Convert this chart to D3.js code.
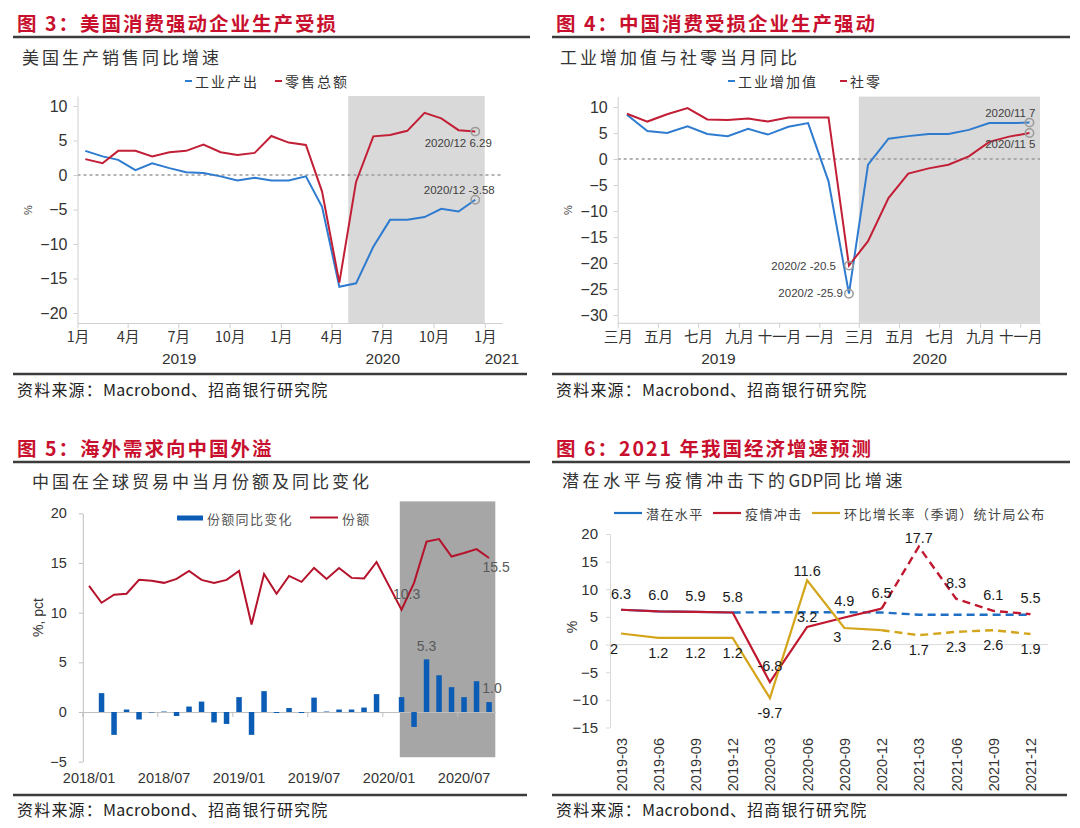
<!DOCTYPE html>
<html><head><meta charset="utf-8">
<script src="https://cdn.jsdelivr.net/npm/d3@7/dist/d3.min.js"></script>
<style>html,body{margin:0;padding:0;background:#fff;}svg{display:block;}</style>
</head><body>
<svg id="chart" width="1080" height="828"></svg>
<script>
// ================= DATA =================
const titles = ["图 3：美国消费强动企业生产受损", "图 4：中国消费受损企业生产强动", "图 5：海外需求向中国外溢", "图 6：2021 年我国经济增速预测"];
const subtitles = [["美国生产销售同比增速"], ["工业增加值与社零当月同比"], ["中国在全球贸易中当月份额及同比变化"], ["潜在水平与疫情冲击下的", "GDP", "同比增速"]];
const sourceParts = ["资料来源：", "Macrobond", "、招商银行研究院"];

// Fig 3: US industrial output & retail sales YoY (%)
const usMonths = ["2019-01","2019-02","2019-03","2019-04","2019-05","2019-06","2019-07","2019-08","2019-09","2019-10","2019-11","2019-12","2020-01","2020-02","2020-03","2020-04","2020-05","2020-06","2020-07","2020-08","2020-09","2020-10","2020-11","2020-12"];
const usIndustrial = [3.5, 2.7, 2.2, 0.7, 1.7, 1.0, 0.4, 0.3, -0.2, -0.8, -0.4, -0.8, -0.8, -0.2, -4.6, -16.2, -15.7, -10.4, -6.5, -6.5, -6.1, -4.9, -5.3, -3.58];
const usRetail = [2.3, 1.7, 3.5, 3.5, 2.7, 3.3, 3.5, 4.4, 3.3, 2.9, 3.2, 5.65, 4.7, 4.35, -2.4, -15.6, -1.0, 5.6, 5.8, 6.4, 9.0, 8.2, 6.5, 6.29];
const usSeriesNames = ["工业产出", "零售总额"];
const usXTickLabels = ["1月","4月","7月","10月","1月","4月","7月","10月","1月"];
const usYTicks = [10, 5, 0, -5, -10, -15, -20];
const usYears = ["2019", "2020", "2021"];
const usShade = ["2020-05", "2021-01"];
const usNotes = ["2020/12 6.29", "2020/12 -3.58"];

// Fig 4: China industrial value added & retail sales YoY (%)
const cnMonths = ["2019-03","2019-04","2019-05","2019-06","2019-07","2019-08","2019-09","2019-10","2019-11","2019-12","2020-01","2020-02","2020-03","2020-04","2020-05","2020-06","2020-07","2020-08","2020-09","2020-10","2020-11"];
const cnIVA = [8.5, 5.4, 5.0, 6.3, 4.8, 4.4, 5.8, 4.7, 6.2, 6.9, -4.3, -25.9, -1.1, 3.9, 4.4, 4.8, 4.8, 5.6, 6.9, 6.9, 7.0];
const cnRetail = [8.7, 7.2, 8.6, 9.8, 7.6, 7.5, 7.8, 7.2, 8.0, 8.0, 8.0, -20.5, -15.8, -7.5, -2.8, -1.8, -1.1, 0.5, 3.3, 4.3, 5.0];
const cnSeriesNames = ["工业增加值", "社零"];
const cnXTickLabels = ["三月","五月","七月","九月","十一月","一月","三月","五月","七月","九月","十一月"];
const cnYTicks = [10, 5, 0, -5, -10, -15, -20, -25, -30];
const cnYears = ["2019", "2020"];
const cnShade = ["2020-03", "2020-12"];
const cnNotes = ["2020/2 -25.9", "2020/2 -20.5", "2020/11 7", "2020/11 5"];

// Fig 5: China's share of global trade (%) and its YoY change (pct)
const tradeMonths = ["2018/01","2018/02","2018/03","2018/04","2018/05","2018/06","2018/07","2018/08","2018/09","2018/10","2018/11","2018/12","2019/01","2019/02","2019/03","2019/04","2019/05","2019/06","2019/07","2019/08","2019/09","2019/10","2019/11","2019/12","2020/01","2020/02","2020/03","2020/04","2020/05","2020/06","2020/07","2020/08","2020/09"];
const tradeShare = [12.7, 11.0, 11.8, 11.9, 13.3, 13.2, 13.0, 13.4, 14.2, 13.3, 13.0, 13.3, 14.2, 8.8, 13.9, 11.9, 13.7, 13.1, 14.5, 13.4, 14.5, 13.5, 13.45, 15.1, null, 10.3, 13.0, 17.15, 17.4, 15.65, 16.0, 16.4, 15.5];
const tradeShareChange = [null, 1.9, -2.3, 0.25, -0.75, -0.05, 0.05, -0.4, 0.55, 1.05, -1.05, -1.2, 1.5, -2.3, 2.1, -0.1, 0.4, -0.1, 1.45, 0.05, 0.25, 0.25, 0.45, 1.8, null, 1.5, -1.5, 5.3, 3.7, 2.5, 1.5, 3.1, 1.0];
const tradeSeriesNames = ["份额同比变化", "份额"];
const tradeXTickLabels = ["2018/01","2018/07","2019/01","2019/07","2020/01","2020/07"];
const tradeYTicks = [20, 15, 10, 5, 0, -5];
const tradeShadeFrom = "2020/02";

// Fig 6: GDP YoY under potential / pandemic shock, and QoQ (sa)
const gdpQuarters = ["2019-03","2019-06","2019-09","2019-12","2020-03","2020-06","2020-09","2020-12","2021-03","2021-06","2021-09","2021-12"];
const gdpPotential = [6.3, 6.0, 5.9, 5.8, 5.85, 5.85, 5.85, 5.8, 5.4, 5.4, 5.4, 5.4];
const gdpShock = [6.3, 6.0, 5.9, 5.8, -6.8, 3.2, 4.9, 6.5, 17.7, 8.3, 6.1, 5.5];
const gdpQoQ = [2, 1.2, 1.2, 1.2, -9.7, 11.6, 3, 2.6, 1.7, 2.3, 2.6, 1.9];
const gdpSeriesNames = ["潜在水平", "疫情冲击", "环比增长率（季调）统计局公布"];
const gdpYTicks = [20, 15, 10, 5, 0, -5, -10, -15];

// ================= STYLE / HELPERS =================
const svg = d3.select("#chart");
const CJK = "'Noto Sans CJK SC','Noto Sans CJK JP',sans-serif";
const NUM = "'Liberation Sans',Arial,sans-serif";
const TITLE_RED = "#c8102e", DARK = "#333333", AXIS = "#d0d0d0";
const BLUE = "#2e7bcf", RED = "#c21f36";
const parseM = d3.timeParse("%Y-%m");
const midM = s => d3.timeDay.offset(parseM(s), 14);

svg.append("rect").attr("width", 1080).attr("height", 828).attr("fill", "#fff");

function txt(g, x, y, s, o = {}) {
  const t = g.append("text").attr("x", x).attr("y", y).attr("dominant-baseline", "central")
    .attr("font-family", o.ff || NUM).attr("font-size", o.fs || 14).attr("fill", o.fill || DARK)
    .attr("text-anchor", o.anchor || "start").text(s);
  if (o.fw) t.attr("font-weight", o.fw);
  if (o.ls != null) t.attr("letter-spacing", o.ls);
  if (o.rot) t.attr("transform", `rotate(${o.rot},${x},${y})`);
  return t;
}
function styleAxis(a, fs, ff, col) {
  a.select(".domain").attr("stroke", col || AXIS).attr("stroke-width", 1);
  a.selectAll(".tick line").attr("stroke", col || AXIS);
  a.selectAll(".tick text").attr("font-family", ff).attr("font-size", fs).attr("fill", DARK);
}
// mixed text: CJK parts spaced, latin parts not
function mixed(g, x, y, parts, fs, ls, fill) {
  const t = g.append("text").attr("x", x).attr("y", y).attr("dominant-baseline", "central")
    .attr("font-family", CJK).attr("font-size", fs).attr("fill", fill);
  parts.forEach(p => {
    const latin = /^[A-Za-z]+$/.test(p);
    t.append("tspan").attr("letter-spacing", latin ? 0.3 : ls).text(p);
  });
  return t;
}

// ================= FRAMES =================
const frames = [
  {x0: 13, x1: 530, tx: 17, ty: 22, uy: 37, sx: 22, sy: 56, sls: 3, ry: 374, ssy: 389},
  {x0: 552, x1: 1070, tx: 556, ty: 22, uy: 37, sx: 560, sy: 56, sls: 3, ry: 374, ssy: 389},
  {x0: 13, x1: 530, tx: 17, ty: 447, uy: 462, sx: 32, sy: 480, sls: 3, ry: 795, ssy: 809},
  {x0: 552, x1: 1070, tx: 556, ty: 447, uy: 462, sx: 562, sy: 479, sls: 3.6, ry: 795, ssy: 809}
];
frames.forEach((f, i) => {
  txt(svg, f.tx, f.ty, titles[i], {ff: CJK, fs: 19.5, fw: 700, fill: TITLE_RED, ls: 2});
  svg.append("line").attr("x1", f.x0).attr("x2", f.x1).attr("y1", f.uy).attr("y2", f.uy).attr("stroke", "#3c3c3c").attr("stroke-width", 2.5);
  mixed(svg, f.sx, f.sy, subtitles[i], 17, f.sls, "#333");
  svg.append("line").attr("x1", f.x0).attr("x2", f.x1 - 3).attr("y1", f.ry).attr("y2", f.ry).attr("stroke", "#3c3c3c").attr("stroke-width", 2.5);
  mixed(svg, f.x0 + 4, f.ssy, sourceParts, 16, 1.2, "#222");
});

function circle(g, x, y) {
  g.append("circle").attr("cx", x).attr("cy", y).attr("r", 4.2).attr("fill", "none").attr("stroke", "#9a9a9a").attr("stroke-width", 1.5);
}

// ================= FIG 3 =================
{
  const g = svg.append("g");
  const x = d3.scaleTime().domain([parseM("2019-01"), parseM("2021-02")]).range([77.5, 502]);
  const y = d3.scaleLinear().domain([-21.45, 11.45]).range([323, 96]);
  const s0 = x(parseM(usShade[0])), s1 = x(parseM(usShade[1]));
  g.append("rect").attr("x", s0).attr("width", s1 - s0).attr("y", y.range()[1]).attr("height", y.range()[0] - y.range()[1]).attr("fill", "#d9d9d9");
  g.append("line").attr("x1", x.range()[0]).attr("x2", x.range()[1]).attr("y1", y(0)).attr("y2", y(0))
    .attr("stroke", "#9a9a9a").attr("stroke-width", 1.5).attr("stroke-dasharray", "3,3");
  const ya = g.append("g").attr("transform", `translate(${x.range()[0]},0)`)
    .call(d3.axisLeft(y).tickValues(usYTicks).tickSize(4).tickSizeOuter(0).tickPadding(6));
  styleAxis(ya, 16, NUM);
  const ticks = d3.timeMonth.every(3).range(parseM("2019-01"), parseM("2021-02"));
  const xa = g.append("g").attr("transform", `translate(0,${y.range()[0]})`)
    .call(d3.axisBottom(x).tickValues(ticks).tickFormat((d, i) => usXTickLabels[i]).tickSize(5).tickSizeOuter(0));
  styleAxis(xa, 14.5, CJK);
  xa.selectAll(".tick text").attr("y", 14).attr("dy", "0.35em");
  const yb = [[parseM("2019-01"), parseM("2020-01")], [parseM("2020-01"), parseM("2021-01")], [parseM("2021-01"), parseM("2021-02")]];
  usYears.forEach((yr, i) => {
    const cx = i < 2 ? (x(yb[i][0]) + x(yb[i][1])) / 2 : x(yb[i][1]);
    txt(g, cx, 358, yr, {fs: 15.5, anchor: "middle"});
  });
  txt(g, 28, 210, "%", {fs: 11, anchor: "middle", rot: -90, fill: "#444"});
  const line = d3.line().x(d => x(midM(d.m))).y(d => y(d.v));
  const ind = usMonths.map((m, i) => ({m, v: usIndustrial[i]}));
  const ret = usMonths.map((m, i) => ({m, v: usRetail[i]}));
  g.append("path").datum(ind).attr("d", line).attr("fill", "none").attr("stroke", BLUE).attr("stroke-width", 2);
  g.append("path").datum(ret).attr("d", line).attr("fill", "none").attr("stroke", RED).attr("stroke-width", 2);
  const lr = ret[ret.length - 1], li = ind[ind.length - 1];
  circle(g, x(midM(lr.m)), y(lr.v));
  circle(g, x(midM(li.m)), y(li.v));
  txt(g, x(midM(lr.m)) - 17, y(lr.v) + 11, usNotes[0], {fs: 11.5, anchor: "middle", fill: "#404040"});
  txt(g, x(midM(li.m)) - 16, y(li.v) - 10, usNotes[1], {fs: 11.5, anchor: "middle", fill: "#404040"});
  [[185, BLUE, usSeriesNames[0]], [275, RED, usSeriesNames[1]]].forEach(([lx, c, n]) => {
    g.append("line").attr("x1", lx).attr("x2", lx + 7).attr("y1", 81).attr("y2", 81).attr("stroke", c).attr("stroke-width", 2);
    txt(g, lx + 10, 81, n, {ff: CJK, fs: 14, ls: 2, fill: "#333"});
  });
}

// ================= FIG 4 =================
{
  const g = svg.append("g");
  const x = d3.scaleTime().domain([parseM("2019-03"), parseM("2020-12")]).range([617.7, 1040]);
  const y = d3.scaleLinear().domain([-31.5, 12]).range([322.8, 96.6]);
  const s0 = x(parseM(cnShade[0])), s1 = x(parseM(cnShade[1]));
  g.append("rect").attr("x", s0).attr("width", s1 - s0).attr("y", y.range()[1]).attr("height", y.range()[0] - y.range()[1]).attr("fill", "#d9d9d9");
  g.append("line").attr("x1", x.range()[0]).attr("x2", x.range()[1]).attr("y1", y(0)).attr("y2", y(0))
    .attr("stroke", "#9a9a9a").attr("stroke-width", 1.5).attr("stroke-dasharray", "3,3");
  const ya = g.append("g").attr("transform", `translate(${x.range()[0]},0)`)
    .call(d3.axisLeft(y).tickValues(cnYTicks).tickSize(4).tickSizeOuter(0).tickPadding(6));
  styleAxis(ya, 16, NUM);
  const ticks = d3.timeMonth.every(2).range(parseM("2019-03"), parseM("2020-12"));
  const xa = g.append("g").attr("transform", `translate(0,${y.range()[0]})`)
    .call(d3.axisBottom(x).tickValues(ticks).tickFormat((d, i) => cnXTickLabels[i]).tickSize(5).tickSizeOuter(0));
  styleAxis(xa, 14.5, CJK);
  xa.selectAll(".tick text").attr("y", 14).attr("dy", "0.35em");
  const yb = [[parseM("2019-03"), parseM("2020-01")], [parseM("2020-01"), parseM("2020-12")]];
  cnYears.forEach((yr, i) => txt(g, (x(yb[i][0]) + x(yb[i][1])) / 2, 358, yr, {fs: 15.5, anchor: "middle"}));
  txt(g, 568, 210, "%", {fs: 11, anchor: "middle", rot: -90, fill: "#444"});
  const line = d3.line().x(d => x(midM(d.m))).y(d => y(d.v));
  const iva = cnMonths.map((m, i) => ({m, v: cnIVA[i]}));
  const ret = cnMonths.map((m, i) => ({m, v: cnRetail[i]}));
  g.append("path").datum(iva).attr("d", line).attr("fill", "none").attr("stroke", BLUE).attr("stroke-width", 2);
  g.append("path").datum(ret).attr("d", line).attr("fill", "none").attr("stroke", RED).attr("stroke-width", 2);
  const minI = iva[d3.minIndex(iva, d => d.v)], minR = ret[d3.minIndex(ret, d => d.v)];
  const lI = iva[iva.length - 1], lR = ret[ret.length - 1];
  [minI, minR, lI, lR].forEach(d => circle(g, x(midM(d.m)), y(d.v)));
  txt(g, x(midM(minI.m)) - 6, y(minI.v) - 1, cnNotes[0], {fs: 11.5, anchor: "end", fill: "#404040"});
  txt(g, x(midM(minR.m)) - 13, y(minR.v), cnNotes[1], {fs: 11.5, anchor: "end", fill: "#404040"});
  txt(g, x(midM(lI.m)) + 6, y(lI.v) - 10, cnNotes[2], {fs: 11.5, anchor: "end", fill: "#404040"});
  txt(g, x(midM(lR.m)) + 6, y(lR.v) + 11, cnNotes[3], {fs: 11.5, anchor: "end", fill: "#404040"});
  [[728, BLUE, cnSeriesNames[0]], [840, RED, cnSeriesNames[1]]].forEach(([lx, c, n]) => {
    g.append("line").attr("x1", lx).attr("x2", lx + 7).attr("y1", 81).attr("y2", 81).attr("stroke", c).attr("stroke-width", 2);
    txt(g, lx + 10, 81, n, {ff: CJK, fs: 14, ls: 2, fill: "#333"});
  });
}

// ================= FIG 5 =================
{
  const g = svg.append("g");
  const x = d3.scaleBand().domain(tradeMonths).range([82.8, 495.3]);
  const y = d3.scaleLinear().domain([-5, 20]).range([761.7, 513.3]);
  const cx = m => x(m) + x.bandwidth() / 2;
  const bw = 5.5;
  const sx0 = cx(tradeShadeFrom) - bw / 2 + 1;
  g.append("rect").attr("x", sx0).attr("width", x.range()[1] - sx0).attr("y", y(21.2)).attr("height", y(-4.55) - y(21.2)).attr("fill", "#a6a6a6");
  const ya = g.append("g").attr("transform", `translate(${x.range()[0]},0)`)
    .call(d3.axisLeft(y).tickValues(tradeYTicks).tickSize(4).tickSizeOuter(0).tickPadding(12));
  styleAxis(ya, 14.5, NUM, "#bfbfbf");
  const xa = g.append("g").attr("transform", `translate(0,${y(0)})`)
    .call(d3.axisBottom(x).tickValues(tradeXTickLabels).tickSize(0).tickSizeOuter(0));
  styleAxis(xa, 14.5, NUM, "#bfbfbf");
  xa.selectAll(".tick text").attr("y", 778 - y(0)).attr("dy", "0.35em");
  tradeXTickLabels.forEach(m => g.append("line").attr("x1", x(m)).attr("x2", x(m)).attr("y1", y(0)).attr("y2", y(0) + 5).attr("stroke", "#bfbfbf"));
  const bars = tradeMonths.map((m, i) => ({m, v: tradeShareChange[i]})).filter(d => d.v != null);
  g.selectAll("rect.bar").data(bars).join("rect").attr("class", "bar")
    .attr("x", d => cx(d.m) - bw / 2).attr("width", bw)
    .attr("y", d => y(Math.max(0, d.v))).attr("height", d => Math.abs(y(d.v) - y(0)))
    .attr("fill", "#0b5cb5");
  const pts = tradeMonths.map((m, i) => ({m, v: tradeShare[i]})).filter(d => d.v != null);
  g.append("path").datum(pts).attr("d", d3.line().x(d => cx(d.m)).y(d => y(d.v)))
    .attr("fill", "none").attr("stroke", "#b5122b").attr("stroke-width", 2);
  const lab = {fs: 14, anchor: "middle", fill: "#595959"};
  const start = pts.findIndex(d => d.m >= "2020/01");
  const minP = pts[start + d3.minIndex(pts.slice(start), d => d.v)];
  txt(g, cx(minP.m) + 5, y(minP.v) - 16, d3.format(".1f")(minP.v), lab);
  const lastP = pts[pts.length - 1];
  txt(g, cx(lastP.m) + 7, y(lastP.v) + 9, d3.format(".1f")(lastP.v), lab);
  const maxB = bars[d3.maxIndex(bars, d => d.v)];
  txt(g, cx(maxB.m), y(maxB.v) - 13, d3.format(".1f")(maxB.v), lab);
  const lastB = bars[bars.length - 1];
  txt(g, cx(lastB.m) + 3, y(lastB.v) - 14, d3.format(".1f")(lastB.v), lab);
  txt(g, 37.5, 617.5, "%, pct", {fs: 14, anchor: "middle", rot: -90, fill: "#333"});
  g.append("rect").attr("x", 177).attr("y", 515.5).attr("width", 26).attr("height", 5).attr("fill", "#0b5cb5");
  txt(g, 207, 518, tradeSeriesNames[0], {ff: CJK, fs: 13, ls: 1.3, fill: "#555"});
  g.append("line").attr("x1", 310).attr("x2", 338).attr("y1", 517.5).attr("y2", 517.5).attr("stroke", "#b5122b").attr("stroke-width", 2);
  txt(g, 342, 518, tradeSeriesNames[1], {ff: CJK, fs: 13, ls: 1.3, fill: "#555"});
}

// ================= FIG 6 =================
{
  const g = svg.append("g");
  const x = d3.scalePoint().domain(gdpQuarters).range([621, 1030.5]);
  const y = d3.scaleLinear().domain([-15, 20]).range([727.5, 534]);
  const axX = 610;
  const ya = g.append("g").attr("transform", `translate(${axX},0)`)
    .call(d3.axisLeft(y).tickValues(gdpYTicks).tickSize(4).tickSizeOuter(0).tickPadding(8));
  styleAxis(ya, 15, NUM, "#d9d9d9");
  g.append("line").attr("x1", axX).attr("x2", 1048).attr("y1", y(0)).attr("y2", y(0)).attr("stroke", "#d9d9d9");
  const xa = g.append("g").attr("transform", `translate(0,${y(0)})`)
    .call(d3.axisBottom(x).tickSize(0).tickSizeOuter(0));
  xa.select(".domain").remove();
  xa.selectAll(".tick text").attr("font-family", NUM).attr("font-size", 14.5).attr("fill", DARK)
    .attr("text-anchor", "end").attr("transform", "rotate(-90)")
    .attr("x", -(738 - y(0))).attr("y", 0).attr("dy", "0.35em");
  txt(g, 572, 627, "%", {fs: 14, anchor: "middle", rot: -90, fill: "#333"});

  const series = [
    {key: "potential", vals: gdpPotential, color: "#1f6fc4", solidEnd: 3},
    {key: "shock", vals: gdpShock, color: "#c0182f", solidEnd: 7},
    {key: "qoq", vals: gdpQoQ, color: "#d4a51a", solidEnd: 7}
  ];
  const line = d3.line().x(d => x(d.q)).y(d => y(d.v));
  series.forEach(s => {
    const pts = gdpQuarters.map((q, i) => ({q, v: s.vals[i]}));
    g.append("path").datum(pts.slice(s.solidEnd)).attr("d", line).attr("fill", "none")
      .attr("stroke", s.color).attr("stroke-width", 2.4).attr("stroke-dasharray", "8,5");
    g.append("path").datum(pts.slice(0, s.solidEnd + 1)).attr("d", line).attr("fill", "none")
      .attr("stroke", s.color).attr("stroke-width", 2.2);
  });
  const placement = {potential: {from: 0, to: 3, dy: -16}, shock: {from: 4, to: 11, dy: -16}, qoq: {from: 0, to: 11, dy: 15}};
  const nudge = {"shock-5": [0, 6], "shock-8": [0, 7], "qoq-5": [0, -24], "qoq-6": [-7, -6], "qoq-0": [-7, 0]};
  const fmt = {potential: v => v.toFixed(1), shock: v => v.toFixed(1), qoq: v => String(v)};
  series.forEach(s => {
    const p = placement[s.key];
    for (let i = p.from; i <= p.to; i++) {
      const n = nudge[s.key + "-" + i] || [0, 0];
      txt(g, x(gdpQuarters[i]) + n[0], y(s.vals[i]) + p.dy + n[1], fmt[s.key](s.vals[i]), {fs: 14.5, anchor: "middle", fill: "#1a1a1a"});
    }
  });
  [[614, "#1f6fc4", 0], [713, "#c0182f", 1], [812, "#d4a51a", 2]].forEach(([lx, c, k]) => {
    g.append("line").attr("x1", lx).attr("x2", lx + 28).attr("y1", 513).attr("y2", 513).attr("stroke", c).attr("stroke-width", 2.2);
    txt(g, lx + 32, 513, gdpSeriesNames[k], {ff: CJK, fs: 13, ls: 1.4, fill: "#444"});
  });
}
</script>
</body></html>
